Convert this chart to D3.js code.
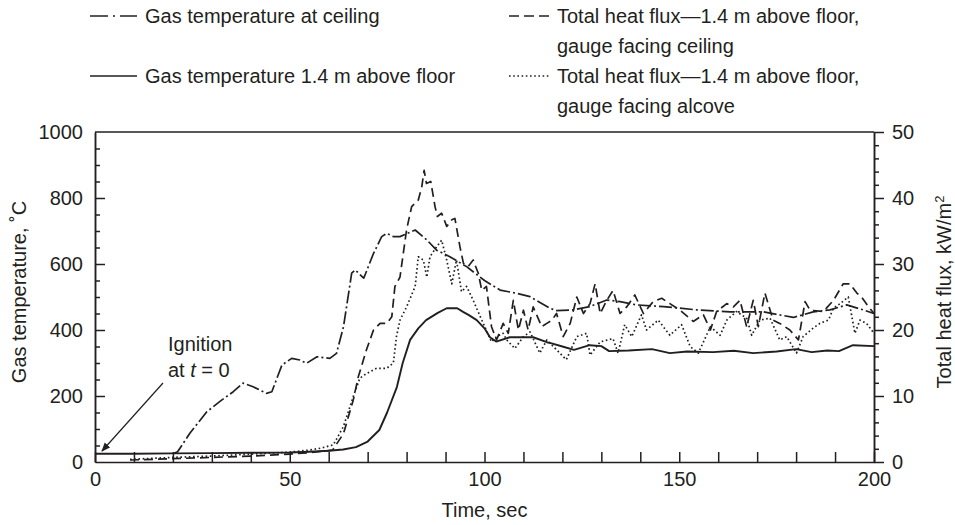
<!DOCTYPE html>
<html>
<head>
<meta charset="utf-8">
<script src="https://cdn.jsdelivr.net/npm/d3@7"></script>
<style>
  body { margin: 0; background: #fff; }
  svg { display: block; }
  text { font-family: "Liberation Sans", Arial, Helvetica, sans-serif; fill: #231f20; }
</style>
</head>
<body>
<svg id="chart" width="955" height="525"></svg>
<script>
// ---------------- DATA ----------------
const ceilingTime = [20, 21.2, 24.4, 28.7, 32, 35.5, 38, 40.6, 44, 45.4, 48, 50.5, 52.6, 54.3, 57, 60.3, 62, 63.8, 65.9, 66.8, 69, 71.5, 73.6, 74.9, 76.6, 78.3, 82.2, 85.2, 87.7, 91.1, 95.4, 100, 104, 108.3, 111.7, 116.8, 118.5, 122.8, 127, 131.4, 134.8, 139, 146, 154.5, 163, 171.6, 179.3, 184.4, 188.7, 193, 197.2, 200];
const ceilingTemp = [25, 31, 88, 152, 183, 213, 239, 228, 208, 213, 294, 314, 309, 299, 319, 314, 329, 410, 572, 582, 557, 632, 683, 693, 683, 683, 703, 673, 642, 622, 592, 550, 521, 511, 501, 466, 459, 461, 471, 491, 486, 476, 471, 461, 455, 455, 438, 455, 461, 476, 461, 450];

const floorTime = [0, 10, 20, 30, 40, 50, 55, 60, 63.7, 67, 70, 73, 75, 77.5, 79, 80.9, 83, 85, 88, 90.3, 93, 94.5, 96, 98, 100, 101.4, 103, 106.5, 112.5, 116, 117, 120, 123, 127, 130, 132, 137, 143, 147.6, 152, 158.7, 164, 169, 175, 180, 184, 188, 191, 194.6, 200];
const floorTemp = [25, 25, 26, 27, 28, 29, 31, 34, 38, 45, 62, 97, 150, 227, 300, 370, 405, 430, 452, 466, 466, 455, 445, 430, 405, 378, 365, 378, 378, 363, 360, 350, 340, 354, 351, 336, 338, 342, 330, 335, 333, 337, 330, 335, 342, 333, 338, 336, 354, 351];

const fluxCeilTime = [9, 20, 30, 40, 50, 55, 58, 61, 63.8, 66.3, 67.6, 69.7, 71.5, 73.2, 74.9, 76.2, 77, 78.3, 80, 81.3, 83, 83.9, 84.5, 85.1, 86.2, 87.3, 87.9, 89, 90.3, 91.6, 92.4, 93.7, 94.6, 95.8, 97.1, 98.4, 99.3, 100.5, 101.8, 103.1, 104.8, 106.1, 107.4, 108.7, 110, 111.2, 112.5, 114.7, 116, 117.3, 118.5, 120.2, 122, 123.7, 125.4, 127.1, 128.4, 129.7, 131.4, 133, 134.8, 136.5, 138.6, 140.8, 143.3, 145.5, 147.6, 150.2, 153.6, 156.2, 158, 159.6, 162.2, 163.9, 165.6, 167.3, 169, 170.3, 172, 174.1, 175.8, 178.4, 180.6, 182.3, 183.6, 187, 189.6, 192.1, 193.8, 195.6, 196.8, 198.6, 200];
const fluxCeil = [0.3, 0.5, 0.7, 0.9, 1.2, 1.4, 1.6, 1.8, 4.3, 9.4, 12.9, 17, 20, 21, 21, 22, 26.6, 28, 35.2, 38.7, 39.7, 41.7, 44.2, 42.2, 42.5, 38.7, 37.2, 37.7, 35.7, 36.7, 36.9, 32.6, 30.1, 29.6, 30.6, 28.6, 26, 26.6, 20.5, 18.5, 21, 19.5, 24.5, 20, 23, 20, 23.5, 20.5, 21, 21.5, 22.5, 19, 21, 25, 22.5, 24, 27, 22.5, 24.5, 26, 22.5, 23.5, 25.3, 22.5, 24.3, 24.8, 24, 23, 21.3, 22.3, 20, 22.8, 24, 23.5, 24.5, 20.5, 24.5, 20.5, 25.6, 21.5, 21, 20, 18.5, 24.3, 23, 22.8, 24.5, 27, 27, 25.6, 25, 23.5, 22.5];

const fluxAlcTime = [9, 20, 30, 40, 50, 55, 58, 61.2, 63.8, 66.3, 68, 69.7, 72.3, 74.9, 76.6, 77.4, 78.3, 80, 82.2, 83, 84.3, 85.2, 86, 87.7, 89, 90.3, 91.6, 92.8, 94.1, 95.4, 97.1, 99.3, 101.8, 103.1, 104.8, 105.7, 107.8, 110, 111.7, 114.2, 116, 118.5, 121, 123.7, 126.2, 127.1, 129.7, 133, 134.3, 136, 137.8, 140.3, 141.6, 144.6, 147.6, 150.6, 152.8, 154.9, 158, 160.5, 162.2, 164.7, 167.3, 168.6, 170.7, 173.3, 175.8, 177.6, 180.1, 181.8, 184.4, 186.1, 188.3, 189.6, 191.3, 193.4, 195.1, 196.4, 198.1, 200];
const fluxAlc = [0.4, 0.7, 0.9, 1.2, 1.5, 1.8, 2.1, 2.6, 5.4, 9.9, 12.7, 13.4, 14.2, 14.2, 15, 19, 21.5, 23.5, 26.6, 31.1, 30.6, 28, 31.1, 32.6, 33.6, 30.6, 27, 30.6, 25.8, 26.6, 24.5, 21.5, 18.2, 19, 19.5, 18.5, 17.2, 19, 19.7, 16.5, 18.5, 17, 15.5, 19, 19.5, 16.2, 18.2, 18.7, 16.5, 20.8, 19, 22.3, 20, 21.5, 19.2, 20.8, 17.5, 16.5, 20.5, 19.2, 21.5, 22.8, 21.8, 19.2, 21.5, 21.8, 18.5, 19, 16.5, 19, 20.3, 21, 21.5, 23.3, 24, 25, 19.5, 21.5, 21, 19.5];

const xTickLabels = [0, 50, 100, 150, 200];
const leftTickLabels = [0, 200, 400, 600, 800, 1000];
const rightTickLabels = [0, 10, 20, 30, 40, 50];

// ---------------- CHART ----------------
const ink = "#231f20";
const FS = "20px";
const svg = d3.select("#chart");
const L = 95, R = 874, T = 132, B = 462;
const x = d3.scaleLinear().domain([0, 200]).range([L, R]);
const yL = d3.scaleLinear().domain([0, 1000]).range([B, T]);
const yR = d3.scaleLinear().domain([0, 50]).range([B, T]);
const fmt = d3.format("d");

function styleAxis(g) {
  g.selectAll("path, line").attr("stroke", ink).attr("stroke-width", 1.5);
  g.selectAll("text").attr("fill", ink).style("font-size", FS)
   .style("font-family", '"Liberation Sans", Arial, sans-serif');
}

// bottom axis: ticks every 10 inward
svg.append("g").attr("transform", `translate(0,${B})`)
  .call(d3.axisBottom(x).tickValues(d3.range(0, 201, 10)).tickSize(-10).tickSizeOuter(0)
        .tickPadding(10).tickFormat(d => xTickLabels.includes(d) ? fmt(d) : ""))
  .call(styleAxis);

// left axis: minor + major inward
svg.append("g").attr("transform", `translate(${L},0)`)
  .call(d3.axisLeft(yL).tickValues(d3.range(50, 1000, 50).filter(v => v % 200 !== 0)).tickSize(-5).tickSizeOuter(0).tickFormat(""))
  .call(styleAxis);
svg.append("g").attr("transform", `translate(${L},0)`)
  .call(d3.axisLeft(yL).tickValues(leftTickLabels).tickSize(-10).tickSizeOuter(0).tickPadding(12).tickFormat(fmt))
  .call(styleAxis)
  .selectAll(".tick line").filter(d => d === 0 || d === 1000).remove();

// right axis: outward
svg.append("g").attr("transform", `translate(${R},0)`)
  .call(d3.axisRight(yR).tickValues(d3.range(2, 50, 2).filter(v => v % 10 !== 0)).tickSize(5).tickSizeOuter(0).tickFormat(""))
  .call(styleAxis);
svg.append("g").attr("transform", `translate(${R},0)`)
  .call(d3.axisRight(yR).tickValues(rightTickLabels).tickSize(10).tickSizeOuter(0).tickPadding(8).tickFormat(fmt))
  .call(styleAxis);

// top frame
svg.append("line").attr("x1", L).attr("x2", R).attr("y1", T).attr("y2", T)
  .attr("stroke", ink).attr("stroke-width", 1.5);

// axis titles
svg.append("text").attr("transform", "translate(26,292) rotate(-90)")
  .attr("text-anchor", "middle").style("font-size", FS).text("Gas temperature, \u02DAC");
const rt = svg.append("text").attr("transform", "translate(951,292) rotate(-90)")
  .attr("text-anchor", "middle").style("font-size", FS);
rt.append("tspan").text("Total heat flux, kW/m");
rt.append("tspan").attr("dy", -7).style("font-size", "13px").text("2");
svg.append("text").attr("x", x(100)).attr("y", 517).attr("text-anchor", "middle")
  .style("font-size", FS).text("Time, sec");

// lines
const styles = {
  dashdot: "13,3,2,3",
  solid: null,
  dashed: "9,5",
  dotted: "1.6,2.6"
};
function drawLine(ts, vs, yScale, dash, w) {
  const pts = ts.map((t, i) => [t, vs[i]]);
  const line = d3.line().x(d => x(d[0])).y(d => yScale(d[1]));
  svg.append("path").datum(pts).attr("d", line).attr("fill", "none")
    .attr("stroke", ink).attr("stroke-width", w)
    .attr("stroke-linejoin", "round")
    .attr("stroke-dasharray", dash);
}
drawLine(fluxAlcTime, fluxAlc, yR, styles.dotted, 1.7);
drawLine(fluxCeilTime, fluxCeil, yR, styles.dashed, 1.7);
drawLine(ceilingTime, ceilingTemp, yL, styles.dashdot, 1.7);
drawLine(floorTime, floorTemp, yL, styles.solid, 1.9);

// ignition annotation
svg.append("defs").append("marker").attr("id", "arr").attr("viewBox", "0 0 10 10")
  .attr("refX", 9).attr("refY", 5).attr("markerWidth", 9).attr("markerHeight", 9)
  .attr("orient", "auto").attr("markerUnits", "userSpaceOnUse")
  .append("path").attr("d", "M0,1 L10,5 L0,9 Z").attr("fill", ink);
svg.append("line").attr("x1", 163).attr("y1", 383).attr("x2", 102).attr("y2", 451)
  .attr("stroke", ink).attr("stroke-width", 1.2).attr("marker-end", "url(#arr)");
svg.append("text").attr("x", 168).attr("y", 351).style("font-size", FS).text("Ignition");
const ig = svg.append("text").attr("x", 168).attr("y", 377).style("font-size", FS);
ig.append("tspan").text("at ");
ig.append("tspan").style("font-style", "italic").text("t");
ig.append("tspan").text(" = 0");

// legend
const legendItems = [
  {x1: 90, x2: 137, xt: 145, y: 16, dash: "18,5,2,5,18", lines: ["Gas temperature at ceiling"]},
  {x1: 90, x2: 137, xt: 145, y: 76, dash: null, lines: ["Gas temperature 1.4 m above floor"]},
  {x1: 509, x2: 550, xt: 557, y: 16, dash: "10,5", lines: ["Total heat flux\u20141.4 m above floor,", "gauge facing ceiling"]},
  {x1: 509, x2: 550, xt: 557, y: 76, dash: "1.6,2.6", lines: ["Total heat flux\u20141.4 m above floor,", "gauge facing alcove"]}
];
legendItems.forEach(it => {
  svg.append("line").attr("x1", it.x1).attr("x2", it.x2).attr("y1", it.y).attr("y2", it.y)
    .attr("stroke", ink).attr("stroke-width", 1.7).attr("stroke-dasharray", it.dash);
  it.lines.forEach((s, i) => {
    svg.append("text").attr("x", it.xt).attr("y", it.y + 7 + i * 30)
      .style("font-size", FS).text(s);
  });
});
</script>
</body>
</html>
